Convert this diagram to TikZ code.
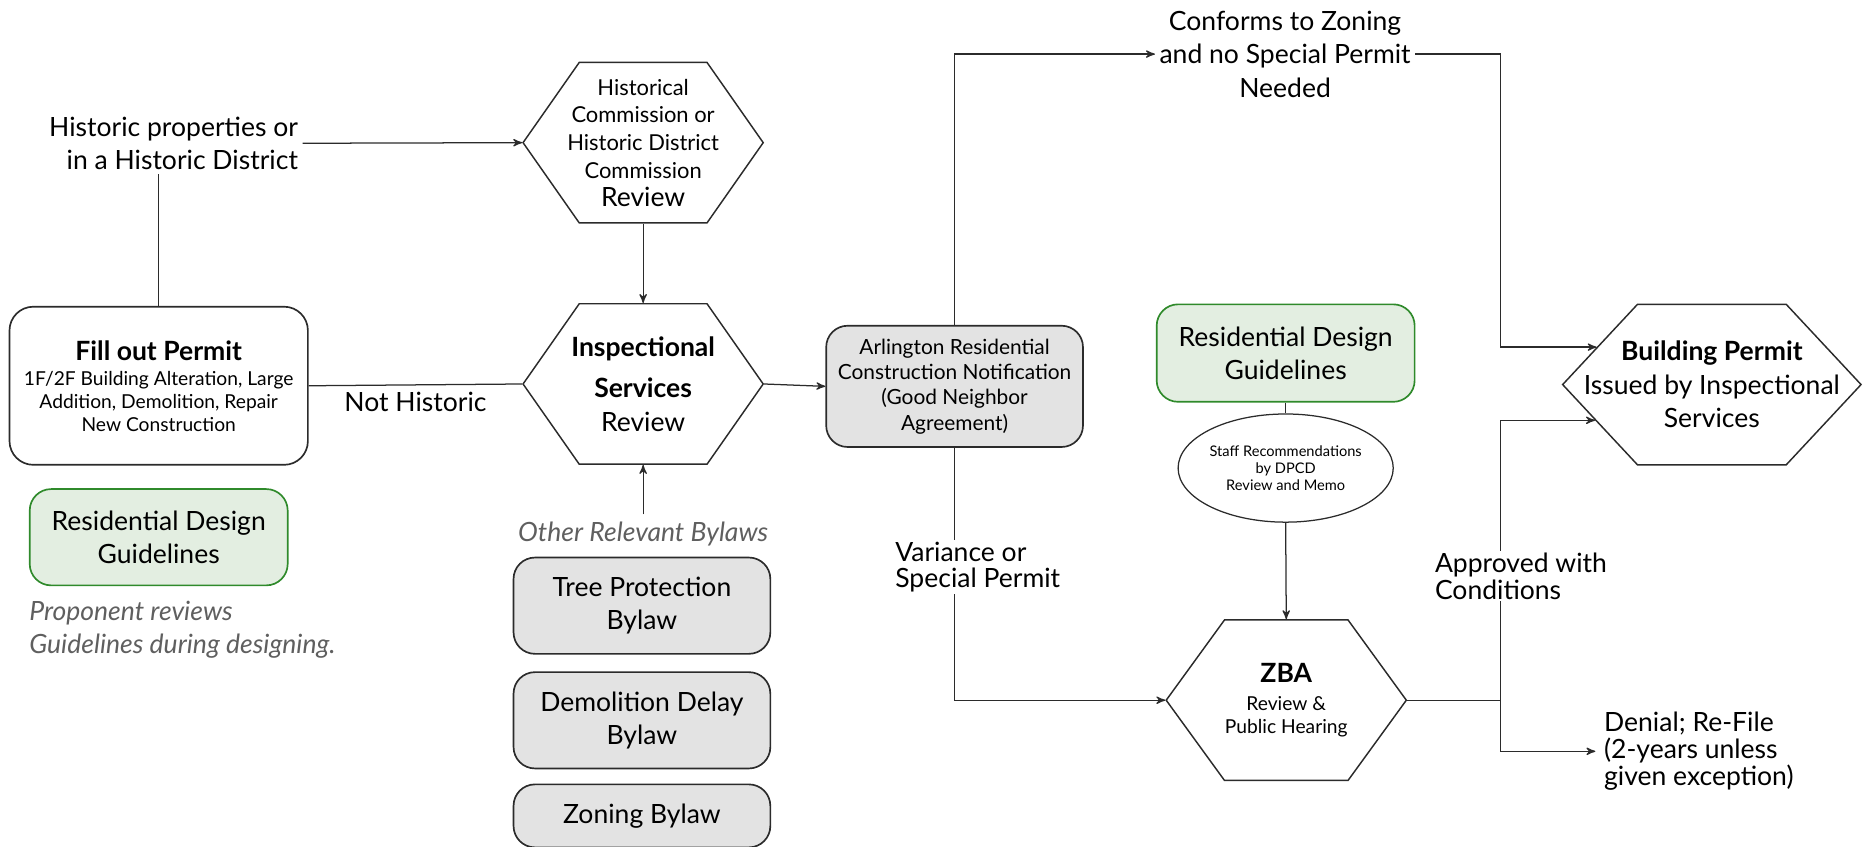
\documentclass[tikz,border=0pt]{standalone}
\usepackage{fontspec}
\setmainfont{Lato}
\usetikzlibrary{positioning, arrows, calc, shapes.symbols, shapes.geometric}

\definecolor{boxgrey}{HTML}{E3E3E3}
\definecolor{guidefill}{HTML}{E3EEE1}
\definecolor{guidegreen}{HTML}{2F8A2B}
\definecolor{notegrey}{HTML}{5F5F5F}
\definecolor{inkgrey}{HTML}{2B2B2B}

\newcommand{\txtbig}{\fontsize{12.7}{16}\selectfont}
\newcommand{\txttight}{\fontsize{12.7}{12.8}\selectfont}
\newcommand{\txthist}{\fontsize{10.5}{13.3}\selectfont}
\newcommand{\txtmid}{\fontsize{10}{12.1}\selectfont}
\newcommand{\txtsub}{\fontsize{9.2}{11}\selectfont}
\newcommand{\txttiny}{\fontsize{7}{8}\selectfont}

\tikzset{
>=stealth', % small filled arrow heads
conn/.style={draw=inkgrey, line width=0.6pt}, % every connector
hexstep/.style={signal, signal to=west and east, draw=inkgrey, line width=0.7pt, align=center, inner ysep=0pt, inner xsep=-20mm, minimum height=27mm}, % review steps, width set by minimum width only
roundbox/.style={draw=inkgrey, line width=0.8pt, rounded corners=3.6mm, align=center}, % boxes
bylawbox/.style={roundbox, fill=boxgrey, minimum width=43.2mm, minimum height=16.2mm, font=\txtbig},
guidebox/.style={roundbox, draw=guidegreen, fill=guidefill, minimum width=43.4mm, minimum height=16.2mm, font=\txtbig},
plain/.style={align=center, font=\txtbig, inner sep=2pt}, % free text
note/.style={font=\txtbig\itshape, text=notegrey, align=left}, % grey remarks
onlinelbl/.style={fill=white, align=left, font=\txttight, inner sep=1pt}, % text sitting on a line
}

\begin{document}
\begin{tikzpicture}[x=0.2mm, y=-0.2mm]
\useasboundingbox (0,0) rectangle (1568,712);

% left column
\node[plain, align=right] (histsrc) at (146,120.5) {Historic properties or\\ in a Historic District};
\node[roundbox, minimum width=50.2mm, minimum height=26.6mm, rounded corners=4mm, font=\txtsub] (permit) at (133.5,324.5)
  {{\txtbig\bfseries Fill out Permit}\\[1pt] 1F/2F Building Alteration, Large\\ Addition, Demolition, Repair\\ New Construction};
\node[guidebox, below=3.8mm of permit] (guide1) {Residential Design\\ Guidelines};
\node[note, below=1.2mm of guide1.south west, anchor=north west, inner xsep=0pt] (guidenote) {Proponent reviews\\ Guidelines during designing.};

% middle column
\node[hexstep, signal pointer angle=110, minimum width=40.4mm, font=\txthist] (histrev) at (541,120) {Historical\\ Commission or\\ Historic District\\ Commission\\ {\txtbig Review}};
\node[hexstep, signal pointer angle=110, minimum width=40.4mm, font=\txtbig] (insp) at (541,323) {\textbf{Inspectional}\\[4pt] \textbf{Services}\\ Review};
\node[note, align=center] (otherlaws) at (541,449) {Other Relevant Bylaws};
\node[bylawbox] (treelaw) at (540,509.5) {Tree Protection\\ Bylaw};
\node[bylawbox, below=2.8mm of treelaw] (demolaw) {Demolition Delay\\ Bylaw};
\node[bylawbox, below=2.4mm of demolaw, minimum height=10.6mm] (zonelaw) {Zoning Bylaw};

% right part
\node[roundbox, fill=boxgrey, minimum width=43.2mm, minimum height=20.4mm, font=\txtmid] (notify) at (803,325) {Arlington Residential\\ Construction Notification\\ (Good Neighbor\\ Agreement)};
\node[plain] (conform) at (1081,45.5) {Conforms to Zoning\\ and no Special Permit\\ Needed};
\node[guidebox, minimum height=16.4mm] (guide2) at (1081.5,297) {Residential Design\\ Guidelines};
\node[ellipse, draw=inkgrey, line width=0.6pt, minimum width=33.4mm, minimum height=18.2mm, inner sep=0pt, align=center, font=\txttiny, below=1.8mm of guide2] (staff) {Staff Recommendations\\ by DPCD\\ Review and Memo};
\node[hexstep, signal pointer angle=108, minimum width=40.4mm, font=\txtsub] (zba) at (1082,589) {{\txtbig\bfseries ZBA}\\[2pt] Review \&\\ Public Hearing};
\node[hexstep, signal pointer angle=94, minimum width=50.2mm, font=\txtbig] (permitout) at (1440,323.5) {\textbf{Building Permit}\\ Issued by Inspectional\\ Services};
\node[align=left, font=\txttight, inner sep=4pt, anchor=west] (denial) at (1342,632) {Denial; Re-File\\ (2-years unless\\ given exception)};

% connectors
\draw[conn, ->] (histsrc.east) -- (histrev.west);
\draw[conn] (permit.north) -- (permit.north |- histsrc.south);
\draw[conn, ->] (histrev.south) -- (insp.north);
\draw[conn] (permit.east) -- node[plain, below=1pt] (nothist) {Not Historic} (insp.west);
\draw[conn, ->] (otherlaws.north) -- (insp.south);
\draw[conn, ->] (insp.east) -- (notify.west);
\draw[conn, ->] (notify.north) |- (conform.west);
\coordinate (upin) at (permitout.162.5);
\coordinate (lowin) at (permitout.197.5);
\coordinate (turn) at ($(upin)+(-81,0)$);
\draw[conn, ->] (conform.east) -| (turn) -- (upin);
\draw[conn] (guide2.south) -- (staff.north);
\draw[conn, ->] (staff.south) -- (zba.north);
\draw[conn, ->] (notify.south) |- (zba.west);
\draw[conn, ->] (zba.east) -| (turn |- lowin) -- (lowin);
\draw[conn, ->] (turn |- zba.east) |- (denial.west);

% labels sitting on the lines
\node[onlinelbl, anchor=west] (variance) at (751,477) {Variance or\\ Special Permit};
\node[onlinelbl, anchor=west] (approved) at (1205,484.5) {Approved with\\ Conditions};
\end{tikzpicture}
\end{document}
